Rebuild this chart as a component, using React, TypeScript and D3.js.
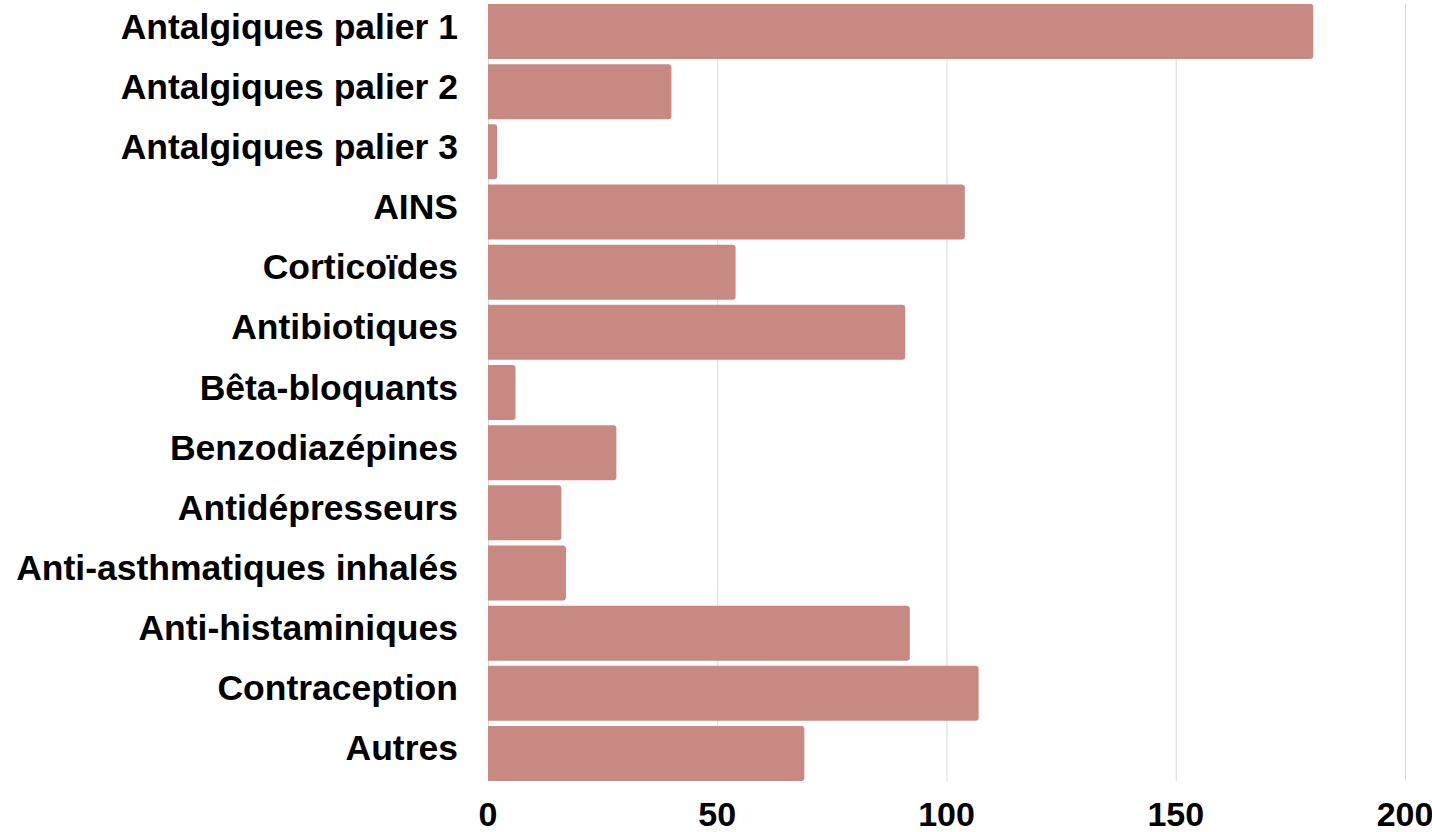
import React, { useEffect, useRef } from 'react'
import * as d3 from 'd3'

// categories and values
const categories = [
    "Antalgiques palier 1",
    "Antalgiques palier 2",
    "Antalgiques palier 3",
    "AINS",
    "Corticoïdes",
    "Antibiotiques",
    "Bêta-bloquants",
    "Benzodiazépines",
    "Antidépresseurs",
    "Anti-asthmatiques inhalés",
    "Anti-histaminiques",
    "Contraception",
    "Autres",
]
const values = [180, 40, 2, 104, 54, 91, 6, 28, 16, 17, 92, 107, 69]
const ticks = [0, 50, 100, 150, 200]

const W = 1432, H = 832
const margin = { top: 4, right: 27, bottom: 51, left: 488 }
const barColor = "#c98983"
const font = "'Liberation Sans', Arial, sans-serif"

const App = () => {
    const ref = useRef<SVGSVGElement>(null)

    useEffect(() => {
        const svg = d3.select(ref.current)
        svg.selectAll("*").remove()

        const width = W - margin.left - margin.right,
            height = H - margin.top - margin.bottom

        const x = d3.scaleLinear().domain([0, 200]).range([0, width])
        const y = d3.scaleBand().domain(categories).range([0, height]).paddingInner(0.085).paddingOuter(0.0)

        const g = svg.append("g")
            .attr("transform", `translate(${margin.left},${margin.top})`)

        // gridlines
        g.selectAll(".grid")
            .data(ticks)
            .enter()
            .append("line")
            .attr("class", "grid")
            .attr("x1", d => x(d) + 0.5)
            .attr("x2", d => x(d) + 0.5)
            .attr("y1", 0)
            .attr("y2", height)
            .attr("stroke", "#d9d9d9")
            .attr("stroke-width", 1)

        // bars: square at the axis, slightly rounded at the end
        const r = 3
        g.selectAll(".bar")
            .data(values)
            .enter()
            .append("path")
            .attr("class", "bar")
            .attr("d", (d, i) => {
                const x0 = x(0), x1 = x(d)
                const y0 = y(categories[i]), y1 = y0 + y.bandwidth()
                const rr = Math.min(r, (x1 - x0) / 2)
                return `M${x0},${y0}H${x1 - rr}Q${x1},${y0} ${x1},${y0 + rr}V${y1 - rr}Q${x1},${y1} ${x1 - rr},${y1}H${x0}Z`
            })
            .attr("fill", barColor)

        // y labels
        g.selectAll(".ylabel")
            .data(categories)
            .enter()
            .append("text")
            .attr("class", "ylabel")
            .attr("x", -30)
            .attr("y", d => y(d) + y.bandwidth() / 2 + 7)
            .attr("text-anchor", "end")
            .attr("font-family", font)
            .attr("font-weight", "bold")
            .attr("font-size", 35.5)
            .attr("fill", "#000")
            .text(d => d)

        // x tick labels
        g.selectAll(".xlabel")
            .data(ticks)
            .enter()
            .append("text")
            .attr("class", "xlabel")
            .attr("x", d => x(d))
            .attr("y", height + 45)
            .attr("text-anchor", "middle")
            .attr("font-family", font)
            .attr("font-weight", "bold")
            .attr("font-size", 34)
            .attr("fill", "#000")
            .text(d => d)
    }, [])

    return (
        <svg ref={ref} width={W} height={H} style={{ display: "block", position: "absolute", left: 0, top: 0, background: "#fff" }} />
    )
}

export default App
